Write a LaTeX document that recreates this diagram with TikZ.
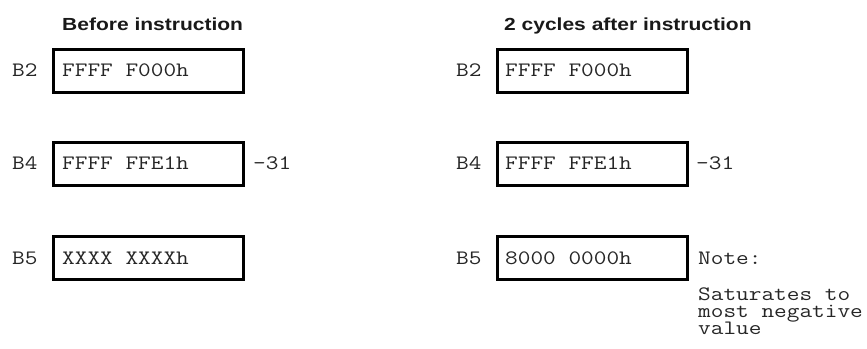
\documentclass[tikz,border=0pt]{standalone}
\usepackage{fontspec}
\setmainfont{Liberation Sans}
\setmonofont[FakeStretch=1.2]{Latin Modern Mono}
\newfontfamily\titlefont[FakeStretch=1.2]{Liberation Sans}
\begin{document}
\begin{tikzpicture}[x=1pt,y=-1pt,
  regbox/.style={draw=black,line width=3pt,minimum width=190pt,minimum height=43pt,inner sep=0pt},
  monotxt/.style={inner sep=0pt,anchor=base west,text=black!85,font=\ttfamily\fontsize{20.5}{17}\selectfont},
  titletxt/.style={inner sep=0pt,anchor=base west,text=black!90,font=\titlefont\bfseries\fontsize{17.5}{17.5}\selectfont}]
\useasboundingbox (0,0) rectangle (867,348);
% titles
\node[titletxt] (tl) at (62,30) {Before instruction};
\node[titletxt] (tr) at (504,30) {2 cycles after instruction};
% left column
\node[regbox] (b2l) at (148.5,71) {};
\node[regbox] (b4l) at (148.5,164) {};
\node[regbox] (b5l) at (148.5,258) {};
\node[monotxt] (l2l) at (12,76) {B2};
\node[monotxt] (l4l) at (12,169) {B4};
\node[monotxt] (l5l) at (12,264) {B5};
\node[monotxt] (v2l) at (62,76) {FFFF F000h};
\node[monotxt] (v4l) at (62,169) {FFFF FFE1h};
\node[monotxt] (v5l) at (62,264) {XXXX XXXXh};
\node[monotxt] (d4l) at (253,169) {–31};
% right column
\node[regbox] (b2r) at (592,71) {};
\node[regbox] (b4r) at (592,164) {};
\node[regbox] (b5r) at (592,258) {};
\node[monotxt] (l2r) at (456,76) {B2};
\node[monotxt] (l4r) at (456,169) {B4};
\node[monotxt] (l5r) at (456,264) {B5};
\node[monotxt] (v2r) at (505,76) {FFFF F000h};
\node[monotxt] (v4r) at (505,169) {FFFF FFE1h};
\node[monotxt] (v5r) at (505,264) {8000 0000h};
\node[monotxt] (d4r) at (696,169) {–31};
\node[monotxt] (n0) at (698,264) {Note:};
\node[monotxt] (n1) at (698,300) {Saturates to};
\node[monotxt] (n2) at (698,317) {most negative};
\node[monotxt] (n3) at (698,334) {value};
\end{tikzpicture}
\end{document}
